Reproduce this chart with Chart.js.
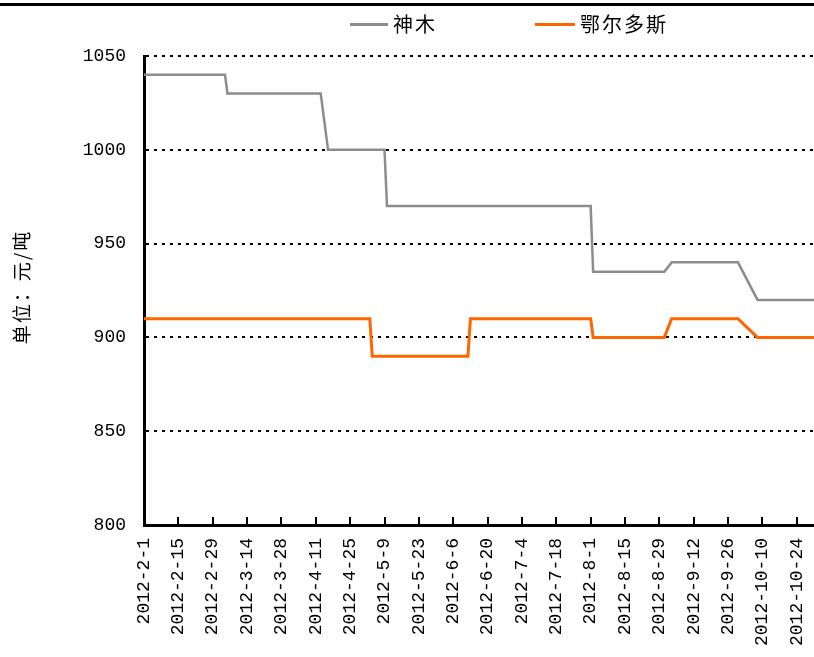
<!DOCTYPE html>
<html>
<head>
<meta charset="utf-8">
<script src="https://cdn.jsdelivr.net/npm/chart.js@4.4.1/dist/chart.umd.min.js"></script>
<style>
  html, body { margin: 0; padding: 0; background: #fff; }
  canvas { display: block; }
</style>
</head>
<body>
<canvas id="chart" width="814" height="657"></canvas>
<script>
// Thermal coal prices (元/吨), 2012-02-01 .. 2012-10-31
const seriesNames = ['神木', '鄂尔多斯'];
const yAxisTitle = '单位：元/吨';
const startDate = '2012-2-1';
const endDate = '2012-10-31';

// 神木: price at each reading where it changes
const shenmuDates  = ['2012-2-1', '2012-3-5', '2012-3-6', '2012-4-13', '2012-4-16', '2012-5-9', '2012-5-10',
                      '2012-8-1', '2012-8-2', '2012-8-31', '2012-9-3', '2012-9-30', '2012-10-8', '2012-10-31'];
const shenmuPrices = [1040, 1040, 1030, 1030, 1000, 1000, 970,
                      970, 935, 935, 940, 940, 920, 920];

// 鄂尔多斯
const ordosDates  = ['2012-2-1', '2012-5-3', '2012-5-4', '2012-6-12', '2012-6-13', '2012-8-1', '2012-8-2',
                     '2012-8-31', '2012-9-3', '2012-9-30', '2012-10-8', '2012-10-31'];
const ordosPrices = [910, 910, 890, 890, 910, 910, 900,
                     900, 910, 910, 900, 900];

// axis ticks
const dateTickLabels = ['2012-2-1', '2012-2-15', '2012-2-29', '2012-3-14', '2012-3-28', '2012-4-11', '2012-4-25',
                        '2012-5-9', '2012-5-23', '2012-6-6', '2012-6-20', '2012-7-4', '2012-7-18', '2012-8-1',
                        '2012-8-15', '2012-8-29', '2012-9-12', '2012-9-26', '2012-10-10', '2012-10-24'];
const priceTicks = [800, 850, 900, 950, 1000, 1050];

const DAY_MS = 86400000;
function dayIndex(s) {
  const [yy, mm, dd] = s.split('-').map(Number);
  const [y0, m0, d0] = startDate.split('-').map(Number);
  return Math.round((Date.UTC(yy, mm - 1, dd) - Date.UTC(y0, m0 - 1, d0)) / DAY_MS);
}
const labelByDay = {};
dateTickLabels.forEach(l => { labelByDay[dayIndex(l)] = l; });

function toPoints(dates, values) {
  return dates.map((d, i) => ({ x: dayIndex(d), y: values[i] }));
}

const tickFont = { family: '"Liberation Mono", "DejaVu Sans Mono", monospace', size: 18 };

// frame line, inward tick marks, legend and the vertical axis title
const decor = {
  id: 'decor',
  afterDraw(chart) {
    const { ctx, chartArea: a, scales: { x, y } } = chart;
    ctx.save();
    ctx.fillStyle = '#000';
    ctx.fillRect(0, 3, chart.width, 3);

    x.ticks.forEach(t => {
      const px = Math.round(x.getPixelForValue(t.value));
      if (px > a.left + 2) ctx.fillRect(px - 1, a.bottom - 8, 2, 8);
    });
    y.ticks.forEach(t => {
      const py = Math.round(y.getPixelForValue(t.value));
      if (py < a.bottom - 2) ctx.fillRect(a.left, py - 1, 5, 2);
    });

    ctx.letterSpacing = '2px';
    ctx.font = '20px "Noto Sans CJK SC"';
    ctx.textBaseline = 'middle';
    ctx.textAlign = 'left';
    const legendX = [350, 535];
    const sampleLen = [38, 40];
    chart.data.datasets.forEach((ds, i) => {
      ctx.strokeStyle = ds.borderColor;
      ctx.lineWidth = 3;
      ctx.beginPath();
      ctx.moveTo(legendX[i], 24.5);
      ctx.lineTo(legendX[i] + sampleLen[i], 24.5);
      ctx.stroke();
      ctx.fillStyle = '#000';
      ctx.fillText(ds.label, legendX[i] + sampleLen[i] + 5, 24);
    });

    ctx.font = '19px "Noto Sans CJK SC"';
    ctx.textAlign = 'center';
    ctx.translate(22, 287);
    ctx.rotate(-Math.PI / 2);
    ctx.fillText(yAxisTitle, 0, 0);
    ctx.restore();
  }
};

new Chart(document.getElementById('chart'), {
  type: 'line',
  data: {
    datasets: [
      {
        label: seriesNames[0],
        data: toPoints(shenmuDates, shenmuPrices),
        borderColor: '#8c8c8c',
        backgroundColor: '#8c8c8c',
        borderWidth: 2.5
      },
      {
        label: seriesNames[1],
        data: toPoints(ordosDates, ordosPrices),
        borderColor: '#ff6600',
        backgroundColor: '#ff6600',
        borderWidth: 3
      }
    ]
  },
  options: {
    responsive: false,
    animation: false,
    events: [],
    layout: { padding: { top: 56, left: 0, right: 0, bottom: 0 } },
    elements: {
      point: { radius: 0 },
      line: { tension: 0, fill: false, borderJoinStyle: 'miter', borderCapStyle: 'butt' }
    },
    plugins: {
      legend: { display: false },
      tooltip: { enabled: false }
    },
    scales: {
      x: {
        type: 'linear',
        min: dayIndex(startDate),
        max: dayIndex(endDate),
        afterBuildTicks: s => { s.ticks = dateTickLabels.map(l => ({ value: dayIndex(l) })); },
        afterFit: s => { s.height = 132; s.paddingLeft = 0; s.paddingRight = 0; },
        grid: { display: false, drawTicks: false },
        border: { display: true, color: '#000', width: 3 },
        ticks: {
          autoSkip: false,
          minRotation: 90,
          maxRotation: 90,
          padding: 13,
          color: '#000',
          font: tickFont,
          callback: v => labelByDay[v] ?? ''
        }
      },
      y: {
        type: 'linear',
        min: priceTicks[0],
        max: priceTicks[priceTicks.length - 1],
        afterBuildTicks: s => { s.ticks = priceTicks.map(v => ({ value: v })); },
        afterFit: s => { s.width = 144; },
        grid: { color: '#000', lineWidth: 2, drawTicks: false },
        border: { display: true, color: '#000', width: 3, dash: [3, 5] },
        ticks: {
          padding: 18,
          color: '#000',
          font: tickFont,
          callback: v => String(v)
        }
      }
    }
  },
  plugins: [decor]
});
</script>
</body>
</html>
